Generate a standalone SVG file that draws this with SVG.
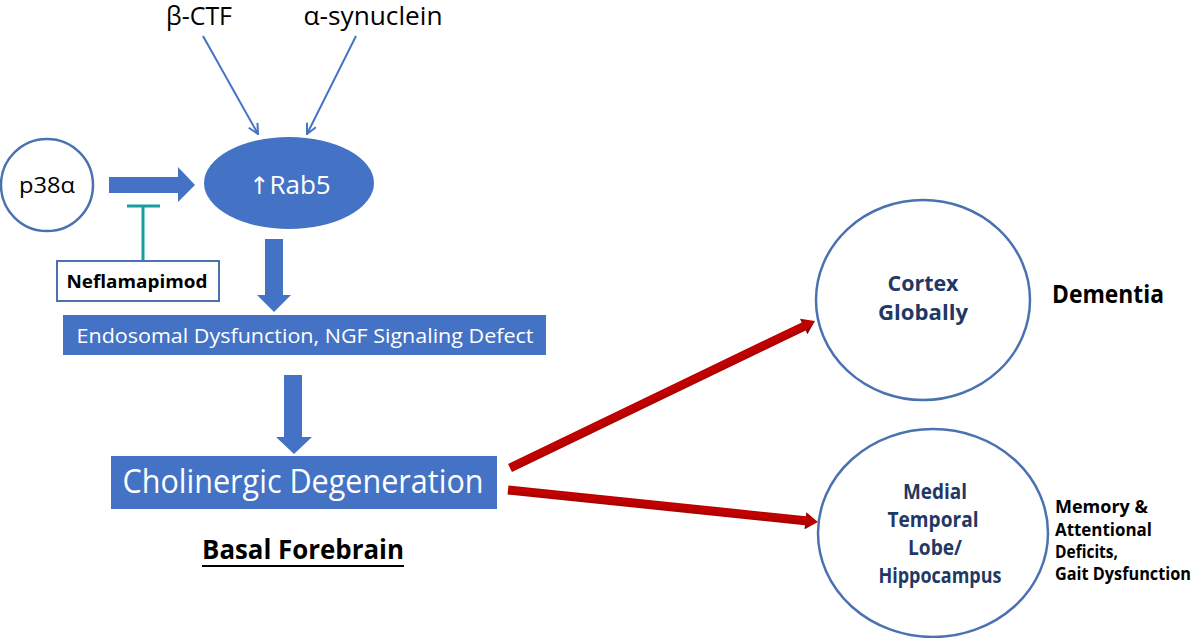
<svg xmlns="http://www.w3.org/2000/svg" width="1200" height="638" viewBox="0 0 1200 638">
<defs>
<style>
text{font-family:"Open Sans","Noto Sans","Liberation Sans",sans-serif}
.outline{fill:#fff;stroke:#4a72b0;stroke-width:2.5}
.blue{fill:#4472c4}
.wt{fill:#fff;text-anchor:middle}
.bk{fill:#000}
.bd{fill:#000;font-weight:bold}
.nv{fill:#1f3864;font-weight:bold;text-anchor:middle;font-size:21px}
.thin{stroke:#4472c4;stroke-width:2;fill:none}
</style>
<marker id="open" viewBox="0 0 12 12" refX="11" refY="6" markerWidth="12" markerHeight="12" markerUnits="userSpaceOnUse" orient="auto">
<path d="M1,1 L11,6 L1,11" fill="none" stroke="#4472c4" stroke-width="2"/>
</marker>
<linearGradient id="red" x1="0" y1="0" x2="0" y2="1">
<stop offset="0" stop-color="#7a0000"/>
<stop offset="0.35" stop-color="#c80000"/>
<stop offset="0.7" stop-color="#b00000"/>
<stop offset="1" stop-color="#6a0000"/>
</linearGradient>
</defs>
<rect width="1200" height="638" fill="#fff"/>

<g id="connectors">
<line class="thin" x1="203" y1="36" x2="258" y2="134" marker-end="url(#open)"/>
<line class="thin" x1="356" y1="36" x2="307" y2="134" marker-end="url(#open)"/>
<polygon class="blue" points="109,177 178,177 178,167 195,185 178,202 178,193 109,193"/>
<path d="M143,260 V206 M127,206 H160" stroke="#1a9e9a" stroke-width="3" fill="none"/>
<polygon class="blue" points="265,239 283,239 283,295 291,295 274,312 257,295 265,295"/>
<polygon class="blue" points="284,375 302,375 302,437 312,437 294,454 276,437 284,437"/>
<g transform="translate(510,468) rotate(-25.73)">
<polygon fill="url(#red)" points="0,-4.5 326,-4.5 326,-8.5 338.6,0 326,8.5 326,4.5 0,4.5"/>
</g>
<g transform="translate(508,490) rotate(5.89)">
<polygon fill="url(#red)" points="0,-4.5 299,-4.5 299,-8.5 311.6,0 299,8.5 299,4.5 0,4.5"/>
</g>
</g>

<g id="beta-ctf"><text x="199" y="25" font-size="25" text-anchor="middle" class="bk" textLength="66" lengthAdjust="spacingAndGlyphs">β-CTF</text></g>
<g id="alpha-synuclein"><text x="373" y="25" font-size="25" text-anchor="middle" class="bk" textLength="139" lengthAdjust="spacingAndGlyphs">α-synuclein</text></g>

<g id="p38a">
<circle class="outline" cx="47" cy="185" r="46"/>
<text x="47" y="193" font-size="22" text-anchor="middle" class="bk" textLength="56" lengthAdjust="spacingAndGlyphs">p38α</text>
</g>

<g id="rab5">
<ellipse class="blue" cx="289" cy="183" rx="85" ry="46"/>
<text x="290" y="194" font-size="26" class="wt"><tspan font-family="DejaVu Sans, sans-serif" font-size="24">↑</tspan>Rab5</text>
</g>

<g id="neflamapimod">
<rect x="57" y="261" width="162" height="40" fill="#fff" stroke="#4a72b0" stroke-width="2"/>
<text x="137" y="288" font-size="18" text-anchor="middle" class="bd" textLength="141" lengthAdjust="spacingAndGlyphs">Neflamapimod</text>
</g>

<g id="endosomal">
<rect class="blue" x="63" y="315" width="483" height="40"/>
<text x="305" y="343" font-size="20" class="wt" textLength="457" lengthAdjust="spacingAndGlyphs">Endosomal Dysfunction, NGF Signaling Defect</text>
</g>

<g id="cholinergic">
<rect class="blue" x="111" y="456" width="386" height="53"/>
<text x="303" y="493" font-size="32" class="wt" textLength="361" lengthAdjust="spacingAndGlyphs">Cholinergic Degeneration</text>
</g>

<g id="basal-forebrain">
<text x="303" y="559" font-size="26" text-anchor="middle" class="bd" textLength="202" lengthAdjust="spacingAndGlyphs">Basal Forebrain</text>
<line x1="202" y1="566" x2="404" y2="566" stroke="#000" stroke-width="2"/>
</g>

<g id="cortex">
<ellipse class="outline" cx="923" cy="300" rx="107" ry="100"/>
<text x="923" y="291" class="nv" textLength="71" lengthAdjust="spacingAndGlyphs">Cortex</text>
<text x="923" y="320" class="nv" textLength="90" lengthAdjust="spacingAndGlyphs">Globally</text>
</g>

<g id="dementia"><text x="1052" y="303" font-size="25" class="bd" textLength="112" lengthAdjust="spacingAndGlyphs">Dementia</text></g>

<g id="mtl">
<ellipse class="outline" cx="933" cy="533" rx="115" ry="104"/>
<text x="935" y="499" class="nv" textLength="64" lengthAdjust="spacingAndGlyphs">Medial</text>
<text x="933" y="527" class="nv" textLength="91" lengthAdjust="spacingAndGlyphs">Temporal</text>
<text x="935" y="555" class="nv" textLength="54" lengthAdjust="spacingAndGlyphs">Lobe/</text>
<text x="940" y="583" class="nv" textLength="123" lengthAdjust="spacingAndGlyphs">Hippocampus</text>
</g>

<g id="deficits">
<text x="1055" y="513" font-size="18" class="bd" textLength="93" lengthAdjust="spacingAndGlyphs">Memory &amp;</text>
<text x="1055" y="536" font-size="18" class="bd" textLength="97" lengthAdjust="spacingAndGlyphs">Attentional</text>
<text x="1055" y="558" font-size="18" class="bd" textLength="63" lengthAdjust="spacingAndGlyphs">Deficits,</text>
<text x="1055" y="580" font-size="17" class="bd" textLength="136" lengthAdjust="spacingAndGlyphs">Gait Dysfunction</text>
</g>
</svg>
